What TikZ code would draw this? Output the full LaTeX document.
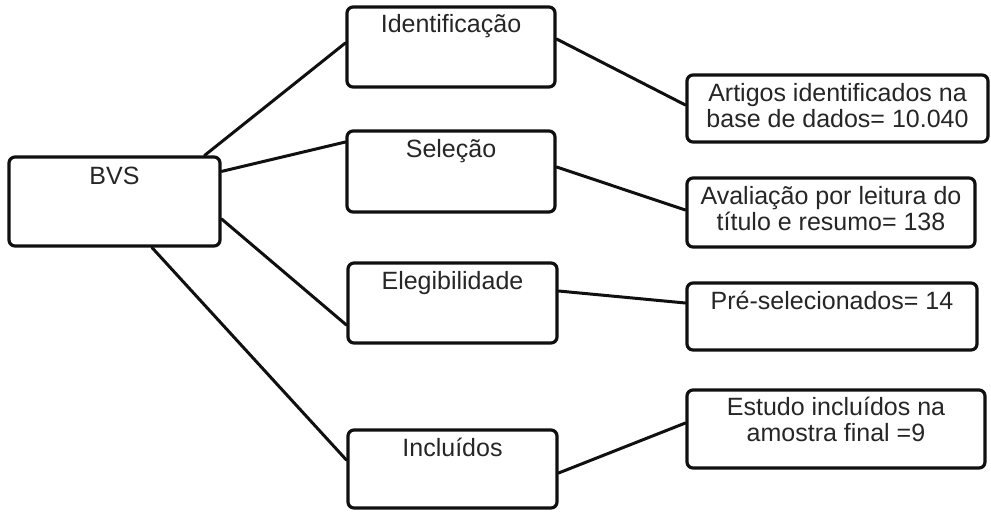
\documentclass[tikz,border=0pt]{standalone}
\usepackage{fontspec}
\setmainfont{Liberation Sans}
\usepackage{tikz}
\usetikzlibrary{positioning,calc}
\definecolor{ink}{HTML}{101010}
\definecolor{txt}{HTML}{262626}
\tikzset{
  stage/.style={draw=ink,fill=white,rounded corners=6pt,
                line width=3.2pt,inner sep=0pt},
  cardtext/.style={anchor=north,inner sep=0pt,align=center,text=txt,
                   font=\fontsize{25}{26}\selectfont},
  linkline/.style={draw=ink,line width=3pt,line cap=round},
}
\begin{document}
\begin{tikzpicture}[x=1pt,y=-1pt]
  \useasboundingbox (0,0) rectangle (991,512);

  % BVS card
  \node[stage,minimum width=211pt,minimum height=89pt](bvs)at(114.5,201.5){};
  \node[cardtext](bvs-t)at([yshift=-11pt]bvs.north){BVS};

  % stage cards
  \node[stage,minimum width=208pt,minimum height=80pt](ident)at(451,47){};
  \node[cardtext](ident-t)at([yshift=-9pt]ident.north){Identificação};
  \node[stage,minimum width=208pt,minimum height=81pt](selec)at(451,171.5){};
  \node[cardtext](selec-t)at([yshift=-10pt]selec.north){Seleção};
  \node[stage,minimum width=209pt,minimum height=80pt](eleg)at(452.5,303){};
  \node[cardtext](eleg-t)at([yshift=-10pt]eleg.north){Elegibilidade};
  \node[stage,minimum width=209pt,minimum height=78pt](incl)at(452.5,469){};
  \node[cardtext](incl-t)at([yshift=-9pt]incl.north){Incluídos};

  % result cards
  \node[stage,minimum width=301pt,minimum height=67pt](artig)at(837.5,108.5){};
  \node[cardtext](artig-t)at([yshift=-10pt]artig.north)
    {Artigos identificados na\\base de dados= 10.040};
  \node[stage,minimum width=288pt,minimum height=69pt](aval)at(831,212.5){};
  \node[cardtext](aval-t)at([yshift=-10pt]aval.north)
    {Avaliação por leitura do\\título e resumo= 138};
  \node[stage,minimum width=290pt,minimum height=67pt](pre)at(832,316.5){};
  \node[cardtext](pre-t)at([yshift=-9pt]pre.north){Pré-selecionados= 14};
  \node[stage,minimum width=298pt,minimum height=78pt](estud)at(836,429){};
  \node[cardtext](estud-t)at([yshift=-8pt]estud.north)
    {Estudo incluídos na\\amostra final =9};

  % BVS to stages
  \draw[linkline]([xshift=-17pt]bvs.north east)--([yshift=4pt]ident.west);
  \draw[linkline]([yshift=-16pt]bvs.north east)--([yshift=29.5pt]selec.west);
  \draw[linkline]([yshift=-17.5pt]bvs.east)--([yshift=-22pt]eleg.west);
  \draw[linkline]([xshift=37.5pt]bvs.south)--([yshift=9pt]incl.west);

  % stages to results
  \draw[linkline]([yshift=8pt]ident.east)--([yshift=3.5pt]artig.west);
  \draw[linkline]([yshift=4.5pt]selec.east)--([yshift=2.5pt]aval.west);
  \draw[linkline]([yshift=12pt]eleg.east)--([yshift=13.5pt]pre.west);
  \draw[linkline]([yshift=-4pt]incl.east)--([yshift=6pt]estud.west);
\end{tikzpicture}
\end{document}
